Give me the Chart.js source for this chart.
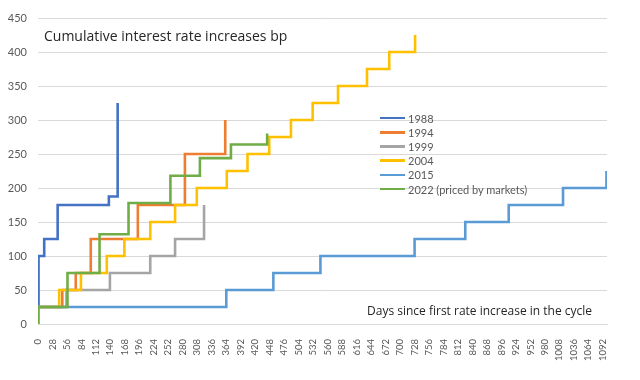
<!DOCTYPE html>
<html>
<head>
<meta charset="utf-8">
<script src="https://cdn.jsdelivr.net/npm/chart.js@4/dist/chart.umd.min.js"></script>
<style>
html,body{margin:0;padding:0;background:#fff;}
#wrap{position:relative;width:640px;height:380px;overflow:hidden;}
#c{position:absolute;left:0;top:0;}
.note{position:absolute;font-family:'Open Sans',Lato,sans-serif;color:#262626;white-space:nowrap;}
#legend{position:absolute;left:380px;top:111px;font-family:Lato,'Open Sans',sans-serif;font-size:11px;color:#595959;}
.li{height:14.2px;display:flex;align-items:center;white-space:nowrap;}
.sw{width:25px;height:2.5px;margin-right:3px;}
</style>
</head>
<body>
<div id="wrap">
<canvas id="c" width="640" height="380"></canvas>
<div class="note" id="t1" style="left:44px;top:26px;font-size:14px;line-height:19px;">Cumulative interest rate increases bp</div>
<div class="note" id="t2" style="left:367px;top:302px;font-size:12px;line-height:17px;">Days since first rate increase in the cycle</div>
<div id="legend"></div>
</div>
<script>
// Series names and colours
const seriesNames = ['1988', '1994', '1999', '2004', '2015', '2022 (priced by markets)'];
const seriesColors = ['#4472C4', '#ED7D31', '#A5A5A5', '#FFC000', '#5B9BD5', '#70AD47'];

// Days since first hike (step change points) and cumulative bp after each change
const days1988 = [0, 1, 12, 38, 137, 154];
const bp1988   = [25, 100, 125, 175, 187.5, 325];

const days1994 = [0, 47, 73, 102, 193, 284, 362];
const bp1994   = [25, 50, 75, 125, 175, 250, 300];

const days1999 = [0, 55, 139, 217, 265, 321];
const bp1999   = [25, 50, 75, 100, 125, 175];

const days2004 = [0, 41, 83, 133, 167, 217, 265, 307, 365, 405, 447, 489, 531, 580, 636, 679, 729];
const bp2004   = [25, 50, 75, 100, 125, 150, 175, 200, 225, 250, 275, 300, 325, 350, 375, 400, 425];

const days2015 = [0, 364, 455, 546, 728, 826, 910, 1015, 1099];
const bp2015   = [25, 50, 75, 100, 125, 150, 175, 200, 225];

const days2022 = [0, 1, 57, 119, 175, 256, 313, 373, 443];
const bp2022   = [0, 25, 75, 132, 178, 218, 244, 264, 280];

// Axis ticks
const xTickStep = 28;   // labels 0, 28, ..., 1092
const xMax = 1100;
const yTickStep = 50;   // 0 .. 450
const yMax = 450;

const allDays = [days1988, days1994, days1999, days2004, days2015, days2022];
const allBp = [bp1988, bp1994, bp1999, bp2004, bp2015, bp2022];

const datasets = seriesNames.map((name, i) => ({
  label: name,
  data: allDays[i].map((d, j) => ({x: d, y: allBp[i][j]})),
  borderColor: seriesColors[i],
  backgroundColor: seriesColors[i],
  borderWidth: 2.6,
  stepped: 'before',
  pointRadius: 0,
  fill: false,
  order: seriesNames.length - i   // later series drawn on top, like the original
}));

new Chart(document.getElementById('c'), {
  type: 'line',
  data: {datasets},
  options: {
    responsive: false,
    animation: false,
    devicePixelRatio: 1,
    layout: {padding: {left: 0, right: 33, top: 18, bottom: 0}},
    plugins: {legend: {display: false}, tooltip: {enabled: false}},
    scales: {
      x: {
        type: 'linear',
        min: 0, max: xMax,
        grid: {display: false},
        border: {display: true, color: '#D9D9D9', width: 1},
        afterFit: s => { s.height = 56; },
        ticks: {
          stepSize: xTickStep,
          includeBounds: false,
          autoSkip: false,
          minRotation: 90, maxRotation: 90,
          padding: 7,
          color: '#595959',
          font: {family: "Lato, 'Open Sans', sans-serif", size: 9.5},
          callback: v => String(v)
        }
      },
      y: {
        min: 0, max: yMax,
        grid: {color: '#D9D9D9', lineWidth: 1, drawTicks: false},
        border: {display: false},
        afterFit: s => { s.width = 38; },
        ticks: {
          stepSize: yTickStep,
          padding: 11,
          color: '#595959',
          font: {family: "Lato, 'Open Sans', sans-serif", size: 11},
          callback: v => String(v)
        }
      }
    }
  }
});

// HTML legend built from the same arrays
const lg = document.getElementById('legend');
seriesNames.forEach((n, i) => {
  const row = document.createElement('div');
  row.className = 'li';
  const sw = document.createElement('span');
  sw.className = 'sw';
  sw.style.background = seriesColors[i];
  const tx = document.createElement('span');
  tx.textContent = n;
  row.appendChild(sw); row.appendChild(tx);
  lg.appendChild(row);
});
</script>
</body>
</html>
